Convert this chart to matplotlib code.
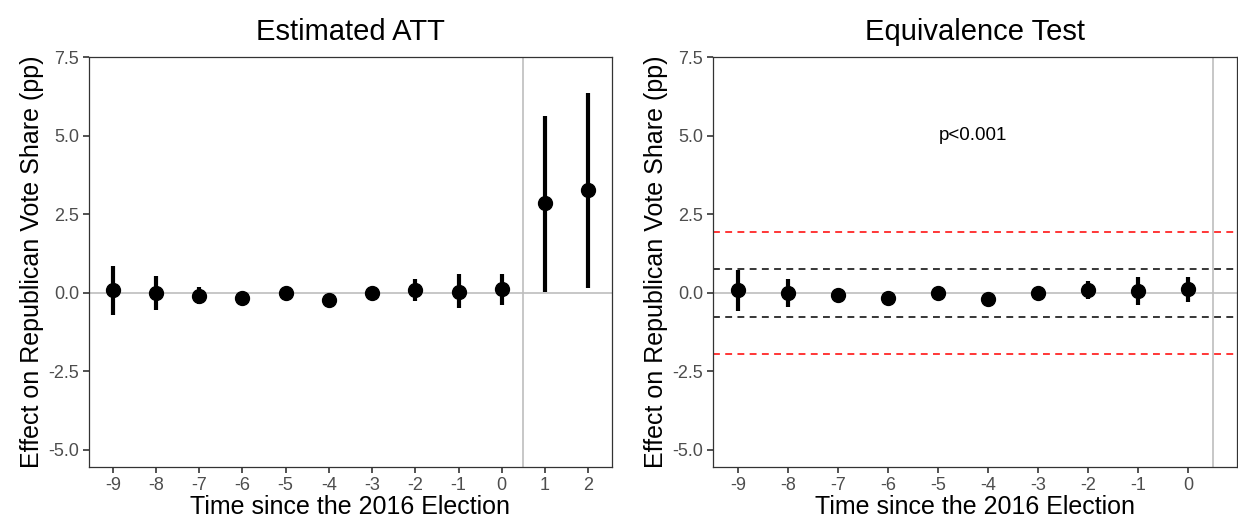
import matplotlib
matplotlib.use("Agg")
import matplotlib.pyplot as plt

plt.rcParams['font.family'] = ['Liberation Sans', 'DejaVu Sans']

# event-time estimates (pp)
times = [-9, -8, -7, -6, -5, -4, -3, -2, -1, 0, 1, 2]
att = [0.09, 0.0, -0.10, -0.18, -0.02, -0.22, -0.02, 0.09, 0.03, 0.13, 2.84, 3.27]
att_lo = [-0.70, -0.55, -0.35, -0.30, -0.20, -0.34, -0.16, -0.27, -0.50, -0.38, 0.03, 0.14]
att_hi = [0.85, 0.52, 0.18, -0.06, 0.16, -0.10, 0.12, 0.42, 0.58, 0.58, 5.62, 6.37]

# equivalence test (pre-period only, 90% CI)
eq_times = [-9, -8, -7, -6, -5, -4, -3, -2, -1, 0]
eq_att = [0.09, 0.0, -0.08, -0.17, -0.01, -0.19, -0.01, 0.09, 0.04, 0.13]
eq_lo = [-0.58, -0.45, -0.20, -0.26, -0.12, -0.28, -0.10, -0.19, -0.40, -0.30]
eq_hi = [0.73, 0.44, 0.04, -0.08, 0.10, -0.10, 0.08, 0.38, 0.51, 0.51]
eq_bound = 0.76
eq_bound_wide = 1.94
p_label = "p<0.001"

yticks = [-5.0, -2.5, 0.0, 2.5, 5.0, 7.5]
ylab = "Effect on Republican Vote Share (pp)"
xlab = "Time since the 2016 Election"

fig = plt.figure(figsize=(12.38, 5.27), dpi=100)
ax1 = fig.add_axes([89 / 1238, 60 / 527, 523 / 1238, 410 / 527])
ax2 = fig.add_axes([713 / 1238, 60 / 527, 524 / 1238, 410 / 527])


def style(ax, xt):
    ax.set_ylim(-5.55, 7.5)
    ax.set_yticks(yticks)
    ax.set_yticklabels([f"{v:.1f}" for v in yticks])
    ax.set_xticks(xt)
    ax.set_xticklabels([str(t) for t in xt])
    ax.tick_params(labelsize=13, colors='#333333', labelcolor='#4D4D4D',
                   length=4, width=1.2, pad=3)
    for s in ax.spines.values():
        s.set_color('#333333')
        s.set_linewidth(0.9)
    ax.set_ylabel(ylab, fontsize=18, labelpad=3)
    ax.set_xlabel(xlab, fontsize=18, labelpad=1)
    ax.axhline(0, color='#BEBEBE', lw=1.2, zorder=1)
    ax.axvline(0.5, color='#BEBEBE', lw=1.2, zorder=1)


# left panel
style(ax1, times)
ax1.set_xlim(-9.55, 2.55)
ax1.vlines(times, att_lo, att_hi, color='black', lw=3, zorder=3)
ax1.plot(times, att, 'o', color='black', ms=10, zorder=4)
ax1.set_title("Estimated ATT", fontsize=21, pad=12)

# right panel
style(ax2, eq_times)
ax2.set_xlim(-9.5, 0.98)
for b, c in [(eq_bound_wide, 'red'), (eq_bound, 'black')]:
    ax2.axhline(b, color=c, lw=1.1, ls=(0, (4.5, 3.5)), zorder=2)
    ax2.axhline(-b, color=c, lw=1.1, ls=(0, (4.5, 3.5)), zorder=2)
ax2.vlines(eq_times, eq_lo, eq_hi, color='black', lw=3, zorder=3)
ax2.plot(eq_times, eq_att, 'o', color='black', ms=10, zorder=4)
ax2.text(-4.3, 5.0, p_label, fontsize=13.5, ha='center', va='center')
ax2.set_title("Equivalence Test", fontsize=21, pad=12)

fig.savefig("out.png", dpi=100)
